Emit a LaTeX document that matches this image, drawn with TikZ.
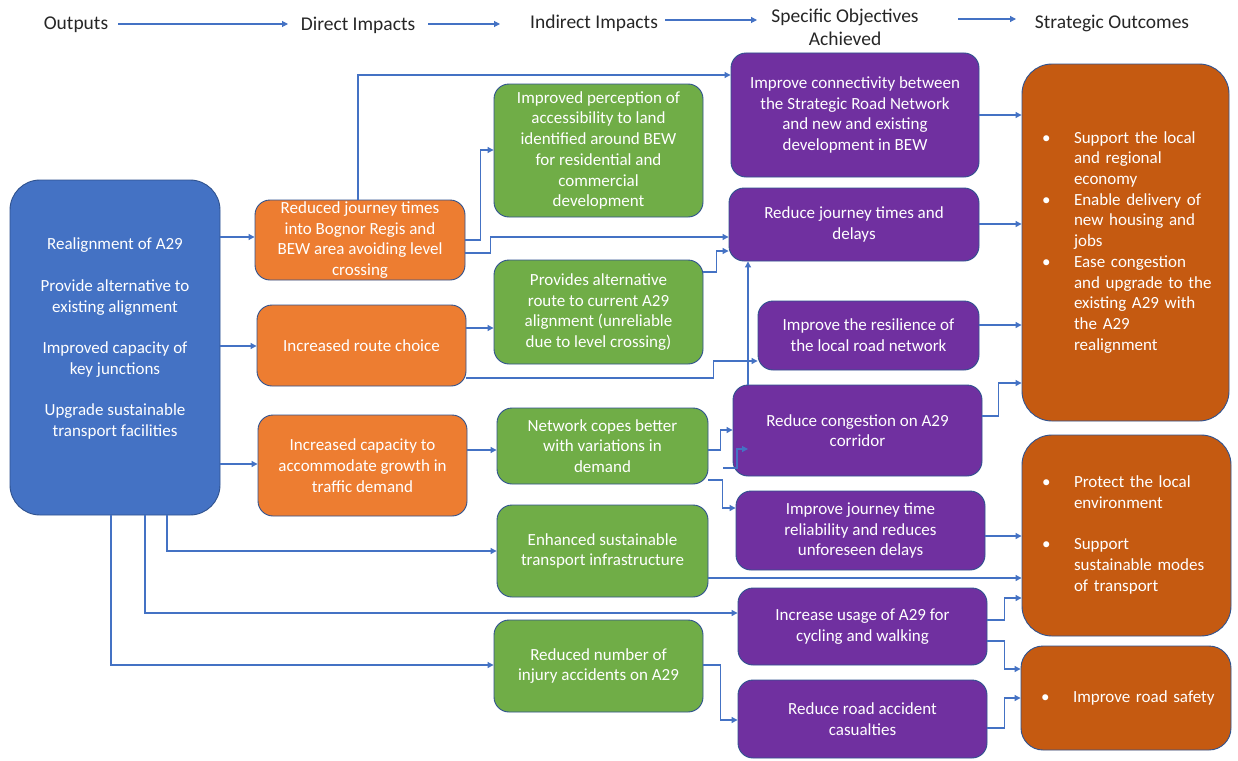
\documentclass[tikz,border=0pt]{standalone}
\usepackage{fontspec}
\setmainfont{Carlito}
\usetikzlibrary{arrows.meta}
\definecolor{cblue}{HTML}{4472C4}
\definecolor{cedge}{HTML}{2F528F}
\definecolor{corange}{HTML}{ED7D31}
\definecolor{cgreen}{HTML}{70AD47}
\definecolor{cpurple}{HTML}{7030A0}
\definecolor{cdorange}{HTML}{C55A11}
\begin{document}
\begin{tikzpicture}[x=1pt,y=-1pt,
  bx/.style={draw=cedge, line width=0.9pt, text=white, align=center, inner sep=0pt,
    font=\fontsize{17}{20.7}\selectfont, rounded corners=15},
  hd/.style={text=black!85, align=center, inner sep=0pt, font=\fontsize{19.5}{23}\selectfont},
  conn/.style={draw=cblue, line width=1.1pt, -{Triangle[length=6pt,width=6pt]}},
  sbox/.style={bx, align=left, fill=cdorange, rounded corners=30}
]
\useasboundingbox (0,0) rectangle (1238,760);
\fill[white] (0,0) rectangle (1238,760);

% headers
\node[hd] (h1) at (76,25) {Outputs};
\node[hd] (h2) at (358,25) {Direct Impacts};
\node[hd] (h3) at (594,23) {Indirect Impacts};
\node[hd] (h4) at (845,27) {Specific Objectives\\Achieved};
\node[hd] (h5) at (1112,23) {Strategic Outcomes};
\coordinate (a1s) at (118,24); \coordinate (a1e) at (288,24);
\coordinate (a2s) at (428,24); \coordinate (a2e) at (500,24);
\coordinate (a3s) at (665,20); \coordinate (a3e) at (757,20);
\coordinate (a4s) at (958,19); \coordinate (a4e) at (1016,19);
\draw[conn] (a1s) -- (a1e);
\draw[conn] (a2s) -- (a2e);
\draw[conn] (a3s) -- (a3e);
\draw[conn] (a4s) -- (a4e);

% outputs
\node[bx, fill=cblue, rounded corners=30, minimum width=210, minimum height=335] (b) at (115,347.5)
  {Realignment of A29\\[20.7pt]Provide alternative to\\existing alignment\\[20.7pt]Improved capacity of\\key junctions\\[20.7pt]Upgrade sustainable\\transport facilities\\\mbox{}};

% direct impacts
\node[bx, fill=corange, minimum width=210, minimum height=80] (o1) at (360,240)
  {Reduced journey times\\into Bognor Regis and\\BEW area avoiding level\\crossing};
\node[bx, fill=corange, minimum width=209, minimum height=81] (o2) at (361.5,345.5)
  {Increased route choice};
\node[bx, fill=corange, minimum width=209, minimum height=101] (o3) at (362.5,465.5)
  {Increased capacity to\\accommodate growth in\\traffic demand};

% indirect impacts
\node[bx, fill=cgreen, minimum width=209, minimum height=133] (g5) at (598.5,150.5)
  {Improved perception of\\accessibility to land\\identified around BEW\\for residential and\\commercial\\development};
\node[bx, fill=cgreen, minimum width=209, minimum height=104] (g6) at (598.5,312)
  {Provides alternative\\route to current A29\\alignment (unreliable\\due to level crossing)};
\node[bx, fill=cgreen, minimum width=211, minimum height=76] (g7) at (602.5,446)
  {Network copes better\\with variations in\\demand};
\node[bx, fill=cgreen, minimum width=211, minimum height=92] (g8) at (602.5,551)
  {Enhanced sustainable\\transport infrastructure};
\node[bx, fill=cgreen, minimum width=209, minimum height=92] (g9) at (598.5,666)
  {Reduced number of\\injury accidents on A29};

% specific objectives
\node[bx, fill=cpurple, minimum width=248, minimum height=124] (p10) at (855,115)
  {Improve connectivity between\\the Strategic Road Network\\and new and existing\\development in BEW};
\node[bx, fill=cpurple, minimum width=250, minimum height=73] (p11) at (854,224.5)
  {Reduce journey times and\\delays};
\node[bx, fill=cpurple, minimum width=221, minimum height=69] (p12) at (868.5,335.5)
  {Improve the resilience of\\the local road network};
\node[bx, fill=cpurple, minimum width=249, minimum height=91] (p13) at (857.5,430.5)
  {Reduce congestion on A29\\corridor};
\node[bx, fill=cpurple, minimum width=249, minimum height=79] (p14) at (860.5,530.5)
  {Improve journey time\\reliability and reduces\\unforeseen delays};
\node[bx, fill=cpurple, minimum width=249, minimum height=77] (p15) at (862.5,626.5)
  {Increase usage of A29 for\\cycling and walking};
\node[bx, fill=cpurple, minimum width=249, minimum height=78] (p16) at (862.5,719)
  {Reduce road accident\\casualties};

% strategic outcomes
\node[sbox, minimum width=207, minimum height=357, text width=167, inner xsep=20pt] (s17) at (1125.5,242.5)
  {\noindent\begin{tabular}{@{}p{32pt}@{}l@{}}
  \textbullet & Support the local\\ & and regional\\ & economy\\
  \textbullet & Enable delivery of\\ & new housing and\\ & jobs\\
  \textbullet & Ease congestion\\ & and upgrade to the\\ & existing A29 with\\ & the A29\\ & realignment
  \end{tabular}};
\node[sbox, minimum width=209, minimum height=201, text width=169, inner xsep=20pt] (s18) at (1126.5,535.5)
  {\noindent\begin{tabular}{@{}p{32pt}@{}l@{}}
  \textbullet & Protect the local\\ & environment\\ & \\
  \textbullet & Support\\ & sustainable modes\\ & of transport
  \end{tabular}};
\node[sbox, rounded corners=22, minimum width=210, minimum height=104, text width=170, inner xsep=20pt] (s19) at (1126,698)
  {\noindent\begin{tabular}{@{}p{32pt}@{}l@{}}
  \textbullet & Improve road safety
  \end{tabular}};

% connectors
\draw[conn] (b.east |- 0,237) -- (o1.west |- 0,237);
\draw[conn] (b.east |- 0,346) -- (o2.west |- 0,346);
\draw[conn] (b.east |- 0,464) -- (o3.west |- 0,464);
\draw[conn] (b.south -| 167,0) |- (g8.west |- 0,551);
\draw[conn] (b.south -| 145,0) |- (p15.west |- 0,613);
\draw[conn] (b.south -| 111,0) |- (g9.west |- 0,665);
\draw[conn] (o1.north -| 358,0) |- (p10.west |- 0,75);
\draw[conn] (o1.east |- 0,240) -- ++(15,0) |- (g5.west |- 0,150);
\draw[conn] (o1.east |- 0,253) -- ++(25,0) |- (p11.west |- 0,237);
\draw[conn] (g6.east |- 0,272) -- ++(13,0) |- (p11.west |- 0,251);
\draw[conn] (o2.east |- 0,328) -- (g6.west |- 0,328);
\draw[conn] (o2.east |- 0,378) -- ++(247,0) |- (p12.west |- 0,361);
\draw[conn] (p13.north -| 748,0) -- (p11.south -| 748,0);
\draw[conn] (o3.east |- 0,450) -- (g7.west |- 0,450);
\draw[conn] (g7.east |- 0,450) -- ++(12,0) |- (p13.west |- 0,430);
\coordinate (w1) at (723,468);
\coordinate (w2) at (748,449);
\draw[conn] (w1) -- ++(14,0) |- (w2);
\draw[conn] (g7.east |- 0,480) -- ++(14,0) |- (p14.west |- 0,508);
\draw[conn] (g8.east |- 0,578) -- (s18.west |- 0,578);
\draw[conn] (g9.east |- 0,665) -- ++(17,0) |- (p16.west |- 0,720);
\draw[conn] (p10.east |- 0,115) -- (s17.west |- 0,115);
\draw[conn] (p11.east |- 0,224) -- (s17.west |- 0,224);
\draw[conn] (p12.east |- 0,325) -- (s17.west |- 0,325);
\draw[conn] (p13.east |- 0,416) -- ++(16,0) |- (s17.west |- 0,383);
\draw[conn] (p14.east |- 0,536) -- (s18.west |- 0,536);
\draw[conn] (p15.east |- 0,620) -- ++(17,0) |- (s18.west |- 0,598);
\draw[conn] (p15.east |- 0,641) -- ++(17,0) |- (s19.west |- 0,669);
\draw[conn] (p16.east |- 0,728) -- ++(17,0) |- (s19.west |- 0,698);
\end{tikzpicture}
\end{document}
